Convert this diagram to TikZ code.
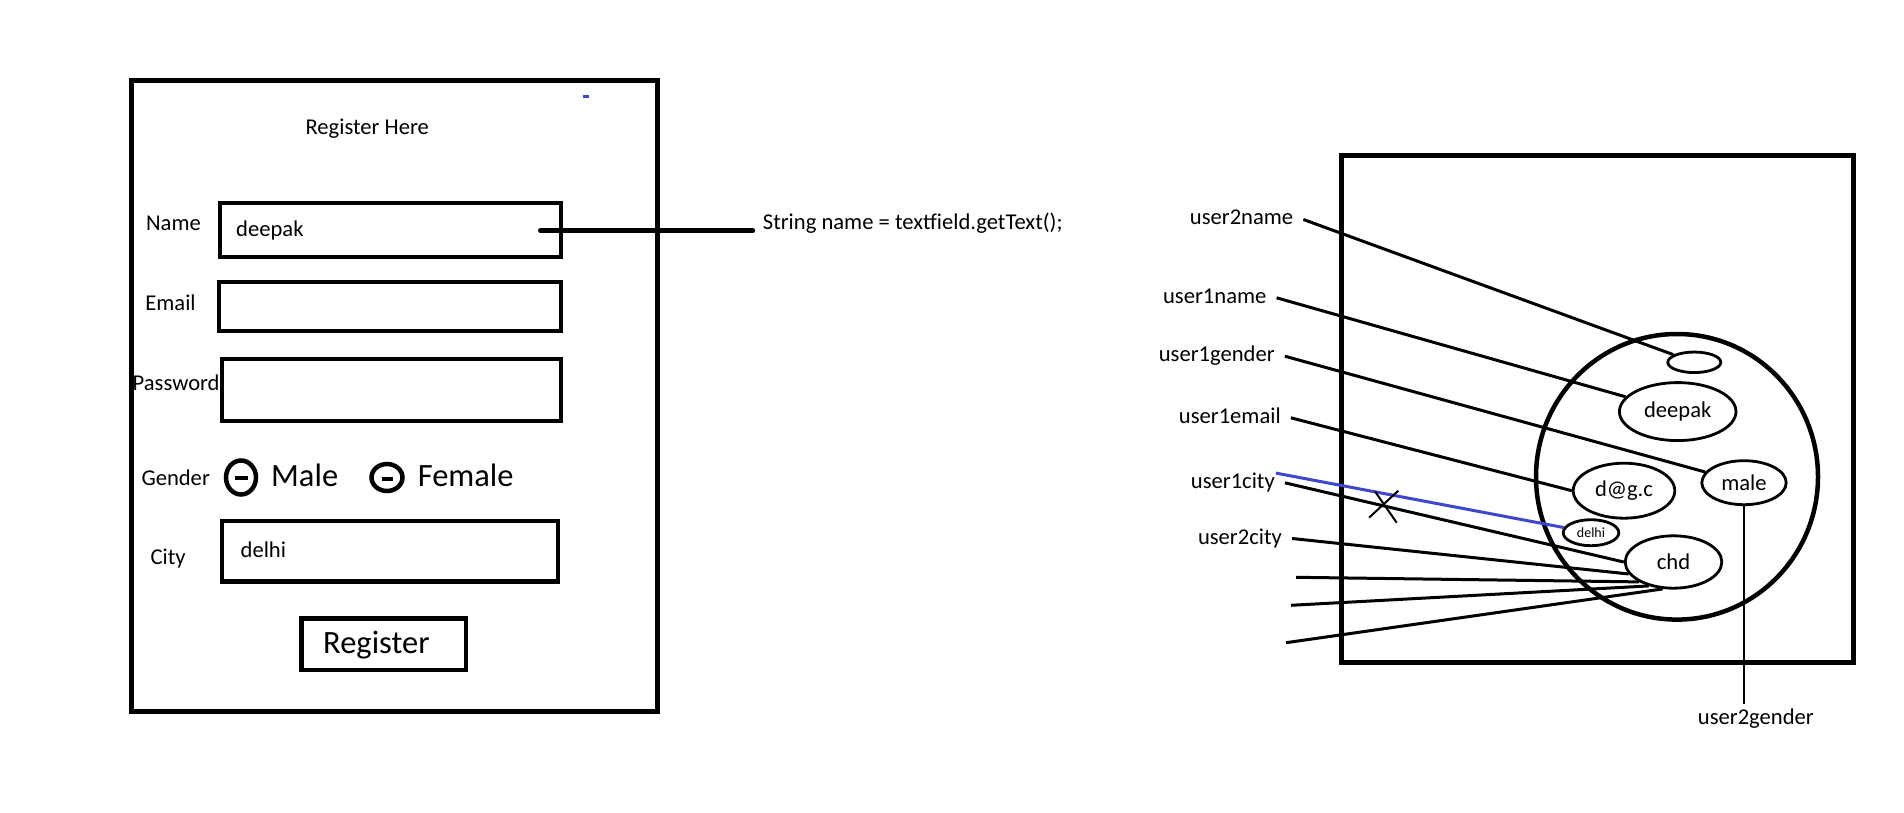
\documentclass[tikz,border=0pt]{standalone}
\usepackage{fontspec}
\setmainfont{Carlito}
\usepackage{tikz}
\usetikzlibrary{shapes.geometric}
\definecolor{paintblue}{HTML}{3F48CC}

\begin{document}
\begin{tikzpicture}[x=1pt, y=-1pt,
	txt/.style={font=\fontsize{22.6}{26}\selectfont, inner sep=0pt},
	bigtxt/.style={font=\fontsize{32.5}{38}\selectfont, inner sep=0pt},
	field/.style={draw, rectangle, line width=4.5pt, inner sep=0pt},
	tag/.style={font=\fontsize{22.6}{26}\selectfont, inner xsep=10pt, inner ysep=0pt,
		text height=15pt, text depth=4pt, anchor=base west},
	blob/.style={draw, ellipse, line width=2.8pt, inner sep=0pt, font=\fontsize{22.6}{26}\selectfont},
	wire/.style={line width=3pt}]
	\useasboundingbox (0,0) rectangle (1904,813);
	% Form Box %
	\draw [line width=5pt] (131,80.5) rectangle (657,711);
	\fill [paintblue] (583,95) rectangle (589,98);
	\node (title) [txt, anchor=base] at (367.2,135) {Register Here};
	% Fields %
	\node (namebox) [field, minimum width=341, minimum height=54] at (390.5,230) {};
	\node (emailbox) [field, minimum width=341.8, minimum height=48.8] at (390.1,306.6) {};
	\node (passbox) [field, minimum width=339, minimum height=62.3] at (391.5,389.9) {};
	\node (citybox) [field, minimum width=336, minimum height=60.7] at (390,551.3) {};
	\node (regbtn) [field, minimum width=164.6, minimum height=51.3] at (383.6,644.3) {};
	\node (reglbl) [bigtxt, anchor=base west] at (323,653.3) {Register};
	\node (namelbl) [txt, anchor=base west] at (145.9,230.7) {Name};
	\node (nameval) [txt, anchor=base west] at (236,236.3) {deepak};
	\node (emaillbl) [txt, anchor=base west] at (145.2,310) {Email};
	\node (passlbl) [txt, anchor=base west] at (132.5,390) {Password};
	\node (genderlbl) [txt, anchor=base west] at (141.3,485) {Gender};
	\node (citylbl) [txt, anchor=base west] at (150.5,564) {City};
	\node (cityval) [txt, anchor=base west] at (240.5,557.3) {delhi};
	% Radio Buttons %
	\draw [line width=4.5pt] (241,477.5) ellipse (15 and 17);
	\draw [line width=4pt] (234.5,477.5) -- (248,477.5);
	\draw [line width=4.5pt] (387,477.5) ellipse (15.5 and 13.5);
	\draw [line width=4pt] (381.5,478.5) -- (393,478.5);
	\node (malelbl) [bigtxt, anchor=base west] at (271,486.7) {Male};
	\node (femalelbl) [bigtxt, anchor=base west] at (417.6,486.7) {Female};
	% Code Line %
	\coordinate (namedot) at (540.5,230.7);
	\node (code) [tag] at (752.7,230) {String name = textfield.getText();};
	\draw [line width=5pt, line cap=round] (namedot) -- (namedot -| code.west);
	% Memory Box %
	\draw [line width=5pt] (1341.5,155.7) rectangle (1853.5,662.5);
	\draw [line width=4.5pt] (1677,476.8) ellipse (141 and 142.8);
	\node (blank) [blob, minimum width=53, minimum height=20.5] at (1694.3,362.3) {};
	\node (dp) [blob, minimum width=116.6, minimum height=58] at (1677.7,411.6) {deepak};
	\node (ml) [blob, minimum width=84.4, minimum height=44] at (1744,482.7) {male};
	\node (dgc) [blob, minimum width=101.6, minimum height=55] at (1624,490.7) {d@g.c};
	\node (dl) [blob, minimum width=55.6, minimum height=26, font=\fontsize{14}{16}\selectfont] at (1591,532.7) {delhi};
	\node (chd) [blob, minimum width=96.6, minimum height=52.4] at (1673.5,562) {chd};
	% Variables %
	\node (u2name) [tag] at (1179.7,225) {user2name};
	\node (u1name) [tag] at (1152.9,303.3) {user1name};
	\node (u1gender) [tag] at (1148.6,361.7) {user1gender};
	\node (u1email) [tag] at (1168.7,423.3) {user1email};
	\node (u1city) [tag] at (1180.7,488.3) {user1city};
	\node (u2city) [tag] at (1187.8,544) {user2city};
	\node (u2gender) [tag, inner ysep=5pt] at (1687.7,724) {user2gender};
	\draw [wire] (u2name.east) -- (blank);
	\draw [wire] (u1name.east) -- (dp);
	\draw [wire] (u1gender.east) -- (ml);
	\draw [wire] (u1email.east) -- (dgc.west);
	\draw [wire] (u1city.east) -- (chd.west);
	\draw [wire] (u2city.east) -- (chd.195);
	\draw [wire, paintblue] ([xshift=-9pt]u1city.north east) -- (dl);
	\draw [line width=2.7pt] (ml.south) -- (ml.south |- u2gender.north);
	% Loose Ends %
	\coordinate (free1) at (1296,577.3);
	\coordinate (free2) at (1291,605.3);
	\coordinate (free3) at (1286,642.7);
	\draw [wire] (free1) -- (chd.210);
	\draw [wire] (free2) -- (chd.224);
	\draw [wire] (free3) -- (chd.248);
	% Cross %
	\draw [line width=2pt] (1369,517.7) -- (1398.3,490.7);
	\draw [line width=2pt] (1375,491.5) -- (1396.7,522.7);
\end{tikzpicture}
\end{document}
